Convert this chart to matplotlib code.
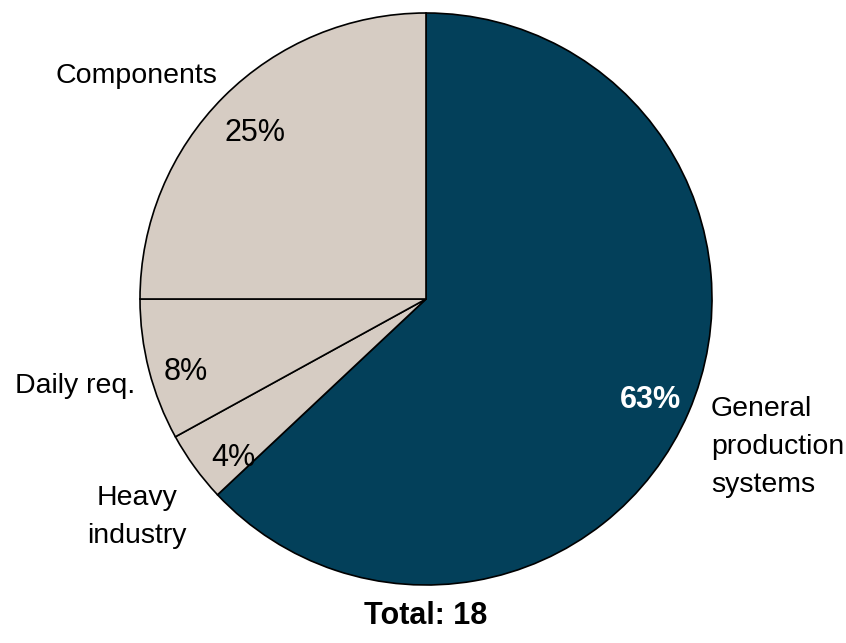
import matplotlib.pyplot as plt

plt.rcParams['font.family'] = ['Liberation Sans Narrow', 'Liberation Sans', 'DejaVu Sans']

labels = ['General\nproduction\nsystems', 'Heavy\nindustry', 'Daily req.', 'Components']
shares = [63, 4, 8, 25]
colors = ['#03405A', '#D6CCC3', '#D6CCC3', '#D6CCC3']
total = 18

W, H = 846, 643
fig = plt.figure(figsize=(W / 100, H / 100), dpi=100)
ax = fig.add_axes([0, 0, 1, 1])

cx, cy, r = 426, H - 299, 286
ax.pie(shares, colors=colors, startangle=90, counterclock=False,
       center=(cx, cy), radius=r, frame=True,
       wedgeprops=dict(edgecolor='black', linewidth=1.2))
ax.set_xlim(0, W)
ax.set_ylim(0, H)
ax.set_aspect('equal')
ax.axis('off')

# percentage labels (pixel positions from top-left)
pct_pos = [(650, 400), (233, 458), (186, 372), (255, 133)]
for s, (px, py), c in zip(shares, pct_pos, colors):
    dark = c == '#03405A'
    ax.text(px, H - py, f'{s}%', ha='center', va='center', fontsize=22,
            color='white' if dark else 'black',
            fontweight='bold' if dark else 'normal')

# category labels
ax.text(711, H - 447, labels[0], ha='left', va='center', fontsize=20.5,
        linespacing=1.62)
ax.text(137, H - 517, labels[1], ha='center', va='center', fontsize=20.5,
        linespacing=1.62)
ax.text(75, H - 386, labels[2], ha='center', va='center', fontsize=20.5)
ax.text(136, H - 76, labels[3], ha='center', va='center', fontsize=20.5)

ax.text(cx, H - 616, f'Total: {total}', ha='center', va='center',
        fontsize=22, fontweight='bold')

fig.savefig('out.png', dpi=100)
